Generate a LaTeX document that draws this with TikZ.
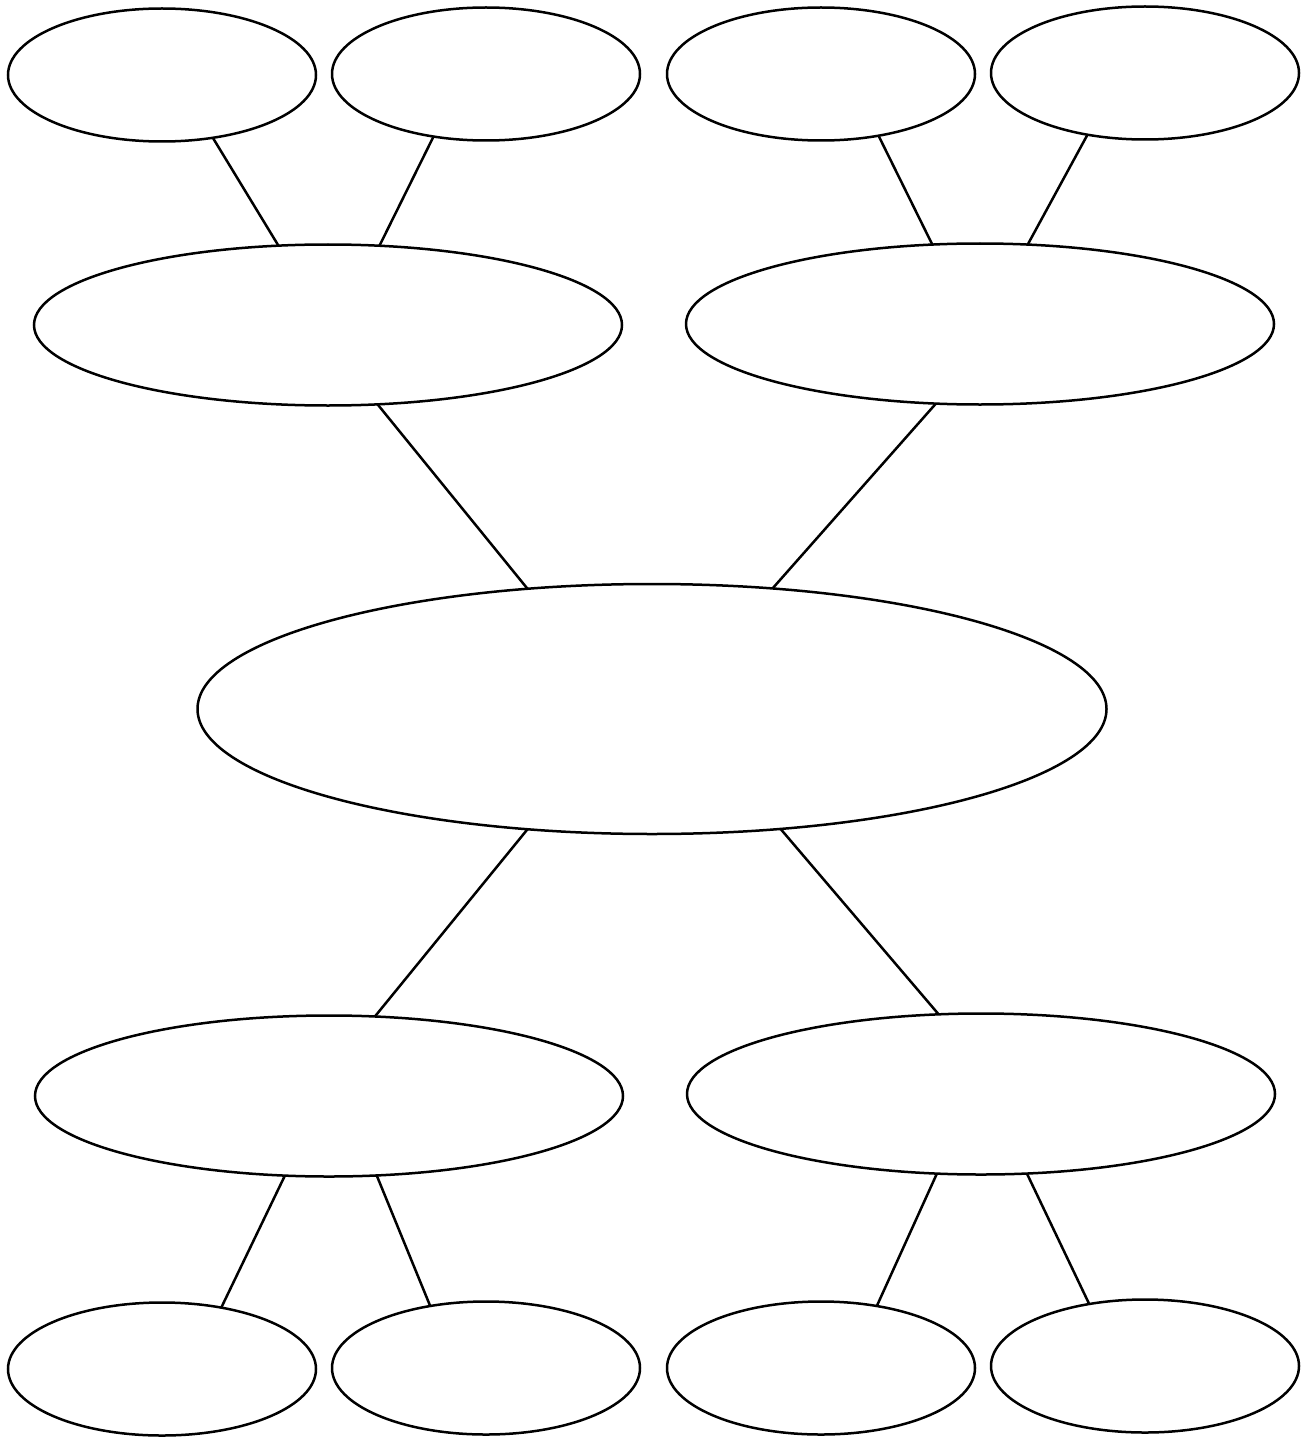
\documentclass[tikz,border=0pt]{standalone}
\usetikzlibrary{shapes.geometric}
\begin{document}
\begin{tikzpicture}[x=1pt,y=-1pt,
  ell/.style={ellipse,draw=black,line width=2.5pt,inner sep=0pt,outer sep=0pt},
  small/.style={ell,minimum width=308pt,minimum height=133pt},
  mid/.style={ell,minimum width=588pt,minimum height=161pt},
  big/.style={ell,minimum width=909pt,minimum height=250pt},
  conn/.style={line width=2.5pt,draw=black}]
\useasboundingbox (0,0) rectangle (1307,1439);
\node[small] (e1) at (162,75) {};
\node[small] (e2) at (486,74) {};
\node[small] (e3) at (821,74) {};
\node[small] (e4) at (1145,73) {};
\node[mid] (e5) at (328,325) {};
\node[mid] (e6) at (980,324) {};
\node[big] (e7) at (652,709) {};
\node[mid] (e8) at (329,1096) {};
\node[mid] (e9) at (981,1094) {};
\node[small] (e10) at (162,1369) {};
\node[small] (e11) at (486,1368) {};
\node[small] (e12) at (821,1368) {};
\node[small] (e13) at (1145,1366) {};
\draw[conn] (e1.-51.8) -- (e5.122.9);
\draw[conn] (e2.-130.2) -- (e5.57);
\draw[conn] (e3.-47.8) -- (e6.121.7);
\draw[conn] (e4.-133.6) -- (e6.59.4);
\draw[conn] (e5.-58.9) -- (e7.136.5);
\draw[conn] (e6.-119.1) -- (e7.45);
\draw[conn] (e7.-136.5) -- (e8.60.6);
\draw[conn] (e7.-43.6) -- (e9.118.8);
\draw[conn] (e8.-119.8) -- (e10.46.9);
\draw[conn] (e8.-59.1) -- (e11.132.7);
\draw[conn] (e9.-119.1) -- (e12.48.9);
\draw[conn] (e9.-60.4) -- (e13.132.6);
\end{tikzpicture}
\end{document}
